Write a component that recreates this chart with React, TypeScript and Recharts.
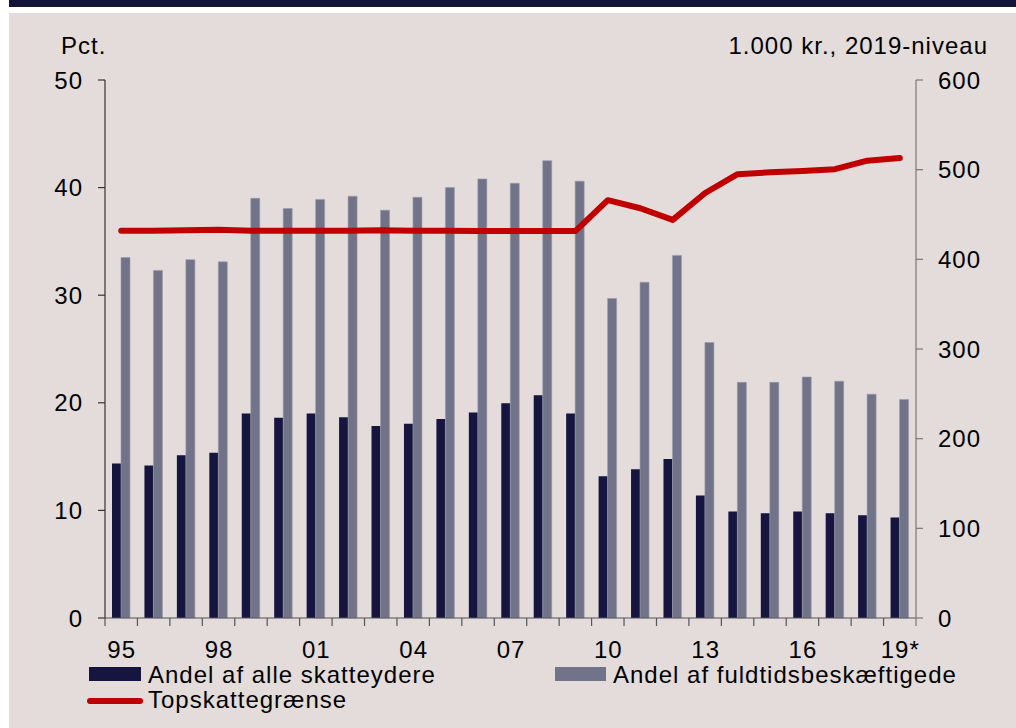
import React from 'react';
import { ComposedChart, Bar, Line, XAxis, YAxis } from 'recharts';

const categories = ['95','96','97','98','99','00','01','02','03','04','05','06','07','08','09','10','11','12','13','14','15','16','17','18','19*'];
const shownLabels = ['95','98','01','04','07','10','13','16','19*'];
const andelAlle = [14.36,14.18,15.13,15.35,19.0,18.6,19.0,18.65,17.85,18.05,18.5,19.1,19.95,20.7,19.0,13.18,13.83,14.77,11.39,9.9,9.74,9.9,9.74,9.55,9.34];
const andelFuldtid = [33.5,32.3,33.3,33.1,39.0,38.05,38.9,39.2,37.9,39.1,40.0,40.8,40.4,42.5,40.6,29.7,31.2,33.7,25.6,21.9,21.9,22.4,22.0,20.8,20.3];
const topskat = [432,432,432.5,433,432,432,432,432,432.5,432,432,431.5,431.5,431.5,431.5,466,457,444,474,495,497,498.5,500.5,510,513];
const leftTicks = [0,10,20,30,40,50];
const rightTicks = [0,100,200,300,400,500,600];

const data = categories.map((c, i) => ({
  cat: c,
  alle: andelAlle[i],
  fuldtid: andelFuldtid[i],
  top: topskat[i],
}));

const FONT = '"Liberation Sans", Arial, sans-serif';
const FS = 24;
const LS = 1;
const BAND = (916 - 105) / categories.length;

const XTick = (props: any) => {
  const { x, y, payload, index } = props;
  const cx = payload.coordinate ?? x;
  const label = payload.value;
  return (
    <g>
      <line x1={cx - BAND / 2} x2={cx - BAND / 2} y1={y} y2={y + 8} stroke="#555" strokeWidth={1.2} />
      {index === categories.length - 1 && (
        <line x1={cx + BAND / 2} x2={cx + BAND / 2} y1={y} y2={y + 8} stroke="#777" strokeWidth={1.2} />
      )}
      {shownLabels.includes(label) && (
        <text x={cx + LS / 2} y={y + 40} textAnchor="middle" fontSize={FS} letterSpacing={LS} fontFamily={FONT} fill="#000">
          {label}
        </text>
      )}
    </g>
  );
};

export default function App() {
  return (
    <div style={{ position: 'absolute', left: 0, top: 0, width: 1016, height: 728, background: '#fff', fontFamily: FONT }}>
      <div style={{ position: 'absolute', left: 9, top: 0, width: 1007, height: 7, background: '#141438' }} />
      <div style={{ position: 'absolute', left: 9, top: 13, width: 1007, height: 715, background: '#E3DCDA' }} />
      <div style={{ position: 'absolute', left: 0, top: 0 }}>
        <ComposedChart width={1016} height={728} data={data} margin={{ top: 80, right: 0, bottom: 0, left: 0 }} barGap={0}>
          <XAxis
            dataKey="cat"
            xAxisId="x"
            interval={0}
            height={110}
            tickLine={false}
            tickSize={0}
            tickMargin={0}
            axisLine={{ stroke: '#555', strokeWidth: 1.2 }}
            tick={<XTick />}
          />
          <YAxis
            yAxisId="left"
            orientation="left"
            width={105}
            domain={[0, 50]}
            ticks={leftTicks}
            interval={0}
            tickSize={7}
            tickMargin={15}
            axisLine={{ stroke: '#333', strokeWidth: 1.2 }}
            tickLine={{ stroke: '#333', strokeWidth: 1.2 }}
            tick={{ fontSize: FS, fill: '#000', fontFamily: FONT, letterSpacing: LS }}
          />
          <YAxis
            yAxisId="right"
            orientation="right"
            width={100}
            domain={[0, 600]}
            ticks={rightTicks}
            interval={0}
            tickSize={7}
            tickMargin={15}
            axisLine={{ stroke: '#777', strokeWidth: 1.2 }}
            tickLine={{ stroke: '#777', strokeWidth: 1.2 }}
            tick={{ fontSize: FS, fill: '#000', fontFamily: FONT, textAnchor: 'start', letterSpacing: LS }}
          />
          <Bar xAxisId="x" yAxisId="left" dataKey="alle" fill="#15153F" barSize={9} isAnimationActive={false} />
          <Bar xAxisId="x" yAxisId="left" dataKey="fuldtid" fill="#717389" stroke="#9A9BAE" strokeWidth={0.6} barSize={9} isAnimationActive={false} />
          <Line xAxisId="x" yAxisId="right" dataKey="top" stroke="#C00000" strokeWidth={6} strokeLinecap="round" strokeLinejoin="round" dot={false} activeDot={false} type="linear" isAnimationActive={false} />
        </ComposedChart>
      </div>
      <svg width={1016} height={728} style={{ position: 'absolute', left: 0, top: 0, pointerEvents: 'none' }}>
        <text x={61} y={54} fontSize={FS} letterSpacing={LS} fontFamily={FONT} fill="#000">Pct.</text>
        <text x={988} y={54} fontSize={FS} letterSpacing={LS} fontFamily={FONT} fill="#000" textAnchor="end">1.000 kr., 2019-niveau</text>
        <rect x={89} y={667} width={52} height={14} fill="#15153F" />
        <text x={148} y={682.5} fontSize={FS} letterSpacing={LS} fontFamily={FONT} fill="#000">Andel af alle skatteydere</text>
        <rect x={555} y={667} width={51} height={14} fill="#717389" />
        <text x={613} y={682.5} fontSize={FS} letterSpacing={LS} fontFamily={FONT} fill="#000">Andel af fuldtidsbeskæftigede</text>
        <line x1={90} x2={140} y1={701} y2={701} stroke="#C00000" strokeWidth={6} strokeLinecap="round" />
        <text x={148} y={707.5} fontSize={FS} letterSpacing={LS} fontFamily={FONT} fill="#000">Topskattegrænse</text>
      </svg>
    </div>
  );
}
